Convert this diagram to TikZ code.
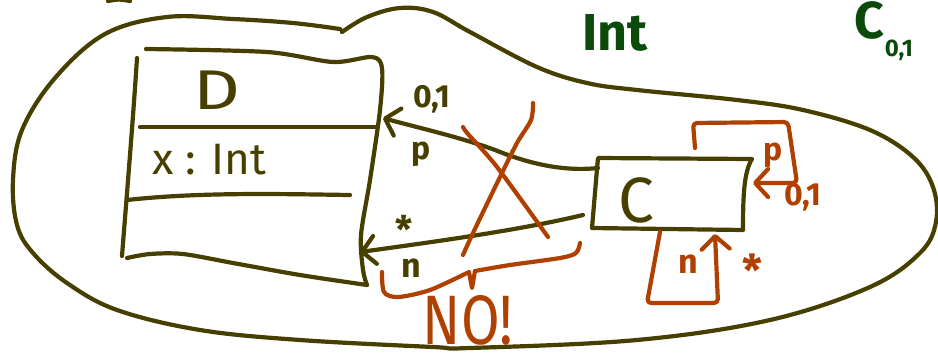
\documentclass[tikz,border=0pt]{standalone}
\usepackage{fontspec}
\setmainfont{Fira Sans}
\usepackage{graphicx}
\usetikzlibrary{arrows.meta}
\definecolor{penolive}{HTML}{463F00}
\definecolor{penrust}{HTML}{B04000}
\definecolor{pengreen}{HTML}{0B4A0B}
\tikzset{
  pen/.style={draw=#1, line width=4.2pt, line cap=round, line join=round},
  pen/.default=penolive,
  assoc/.style={pen=#1, -{Straight Barb[length=13pt,width=28pt,round]}},
  assoc/.default=penolive,
  scrawl/.style={inner sep=0pt, text=#1},
  scrawl/.default=penolive,
}
\newcommand{\penfont}[1]{\fontsize{#1}{#1}\selectfont}

\begin{document}
\begin{tikzpicture}[x=1pt, y=-1pt]
\useasboundingbox (0,0) rectangle (938,362);
% outer boundary
\draw[pen] plot[smooth, tension=0.6] coordinates {(340,29) (293,23) (233,19)
  (167,17) (105,34) (55,78) (22,130) (13,180) (17,225) (33,253) (67,283)
  (117,310) (200,330) (300,340) (433,347) (470,348) (637,340) (770,320)
  (870,287) (920,253) (936,222) (933,187) (913,157) (870,130) (803,110)
  (737,100) (637,90) (587,83) (537,67) (470,32) (433,12) (400,8) (367,17)
  (342,32)};
\draw[pen] (108,1) .. controls (119,-1) .. (130,1);

% class D
\draw[pen] plot[smooth, tension=0.5] coordinates {(146,49) (267,52) (333,62)
  (372,57) (382,68) (380,110) (370,180) (361,235) (363,270) (367,285)};
\draw[pen] plot[smooth, tension=0.5] coordinates {(367,285) (300,275) (233,263)
  (183,254) (150,254) (127,258)};
\draw[pen] (122,256) .. controls (128,180) and (133,120) .. (137,58);
\draw[pen] (140,127) -- (377,127);
\draw[pen] (127,200) .. controls (200,192) and (280,194) .. (350,195);
\node[scrawl, font=\penfont{56}] (dName) at (217,90) {\scalebox{1.3}[1]{D}};
\node[scrawl, font=\penfont{44}, anchor=west] (dAttr) at (152,160) {x : Int};

% class C
\draw[pen] (598,158) -- (752,159) .. controls (744,172) and (743,195) ..
  (743,230) -- (592,228) .. controls (594,205) and (596,180) .. cycle;
\node[scrawl, font=\penfont{64}] (cName) at (636,200) {C};

% associations C -> D
\coordinate (cUpper) at (598,168);
\coordinate (dUpper) at (383,118);
\coordinate (cLower) at (583,215);
\coordinate (dLower) at (360,252);
\draw[assoc] (cUpper) .. controls (560,172) and (525,162) .. (495,150)
  .. controls (460,137) and (415,127) .. (dUpper);
\draw[assoc] (cLower) .. controls (520,230) and (440,241) .. (dLower);
\node[scrawl, font=\penfont{32}\bfseries] (multA) at (432,99) {0,1};
\node[scrawl, font=\penfont{32}\bfseries] (roleA) at (421,154) {p};
\node[scrawl, font=\penfont{38}\bfseries] (multB) at (404,229) {*};
\node[scrawl, font=\penfont{34}\bfseries] (roleB) at (411,268) {n};

% crossed out
\draw[pen=penrust] plot[smooth] coordinates {(463,127) (468,134) (497,167) (548,237)};
\draw[pen=penrust] plot[smooth] coordinates {(533,103) (531,120) (517,143)
  (500,177) (473,233) (463,255)};
\draw[pen=penrust] plot[smooth] coordinates {(382,272) (384,292) (398,297)
  (430,290) (469,272)} -- (472,288) -- (475,271)
  plot[smooth] coordinates {(475,271) (510,265) (560,258) (576,253) (580,243)};
\node[scrawl=penrust, font=\penfont{70}] (nope) at (468,320) {\scalebox{0.8}[1]{NO!}};

% self associations on C
\coordinate (cTop) at (695,148);
\coordinate (cRight) at (753,183);
\coordinate (cBottom) at (660,232);
\coordinate (cBottomIn) at (715,234);
\draw[assoc=penrust, rounded corners=4pt] (cTop) -- (693,123) -- (788,122)
  -- (797,183) -- (cRight);
\draw[assoc=penrust, rounded corners=4pt] (cBottom) -- (647,303) -- (718,303)
  -- (cBottomIn);
\node[scrawl=penrust, font=\penfont{32}\bfseries] (roleC) at (773,155) {p};
\node[scrawl=penrust, font=\penfont{32}\bfseries] (multC) at (803,197) {0,1};
\node[scrawl=penrust, font=\penfont{34}\bfseries] (roleD) at (688,264) {n};
\node[scrawl=penrust, font=\penfont{44}\bfseries] (multD) at (752,270) {*};

% type labels
\node[scrawl=pengreen, font=\penfont{52}\bfseries] (intType) at (615,33) {Int};
\node[scrawl=pengreen, font=\penfont{52}\bfseries] (cType) at (884,31)
  {C\raisebox{-0.35em}{\penfont{24}\bfseries 0,1}};
\end{tikzpicture}
\end{document}
